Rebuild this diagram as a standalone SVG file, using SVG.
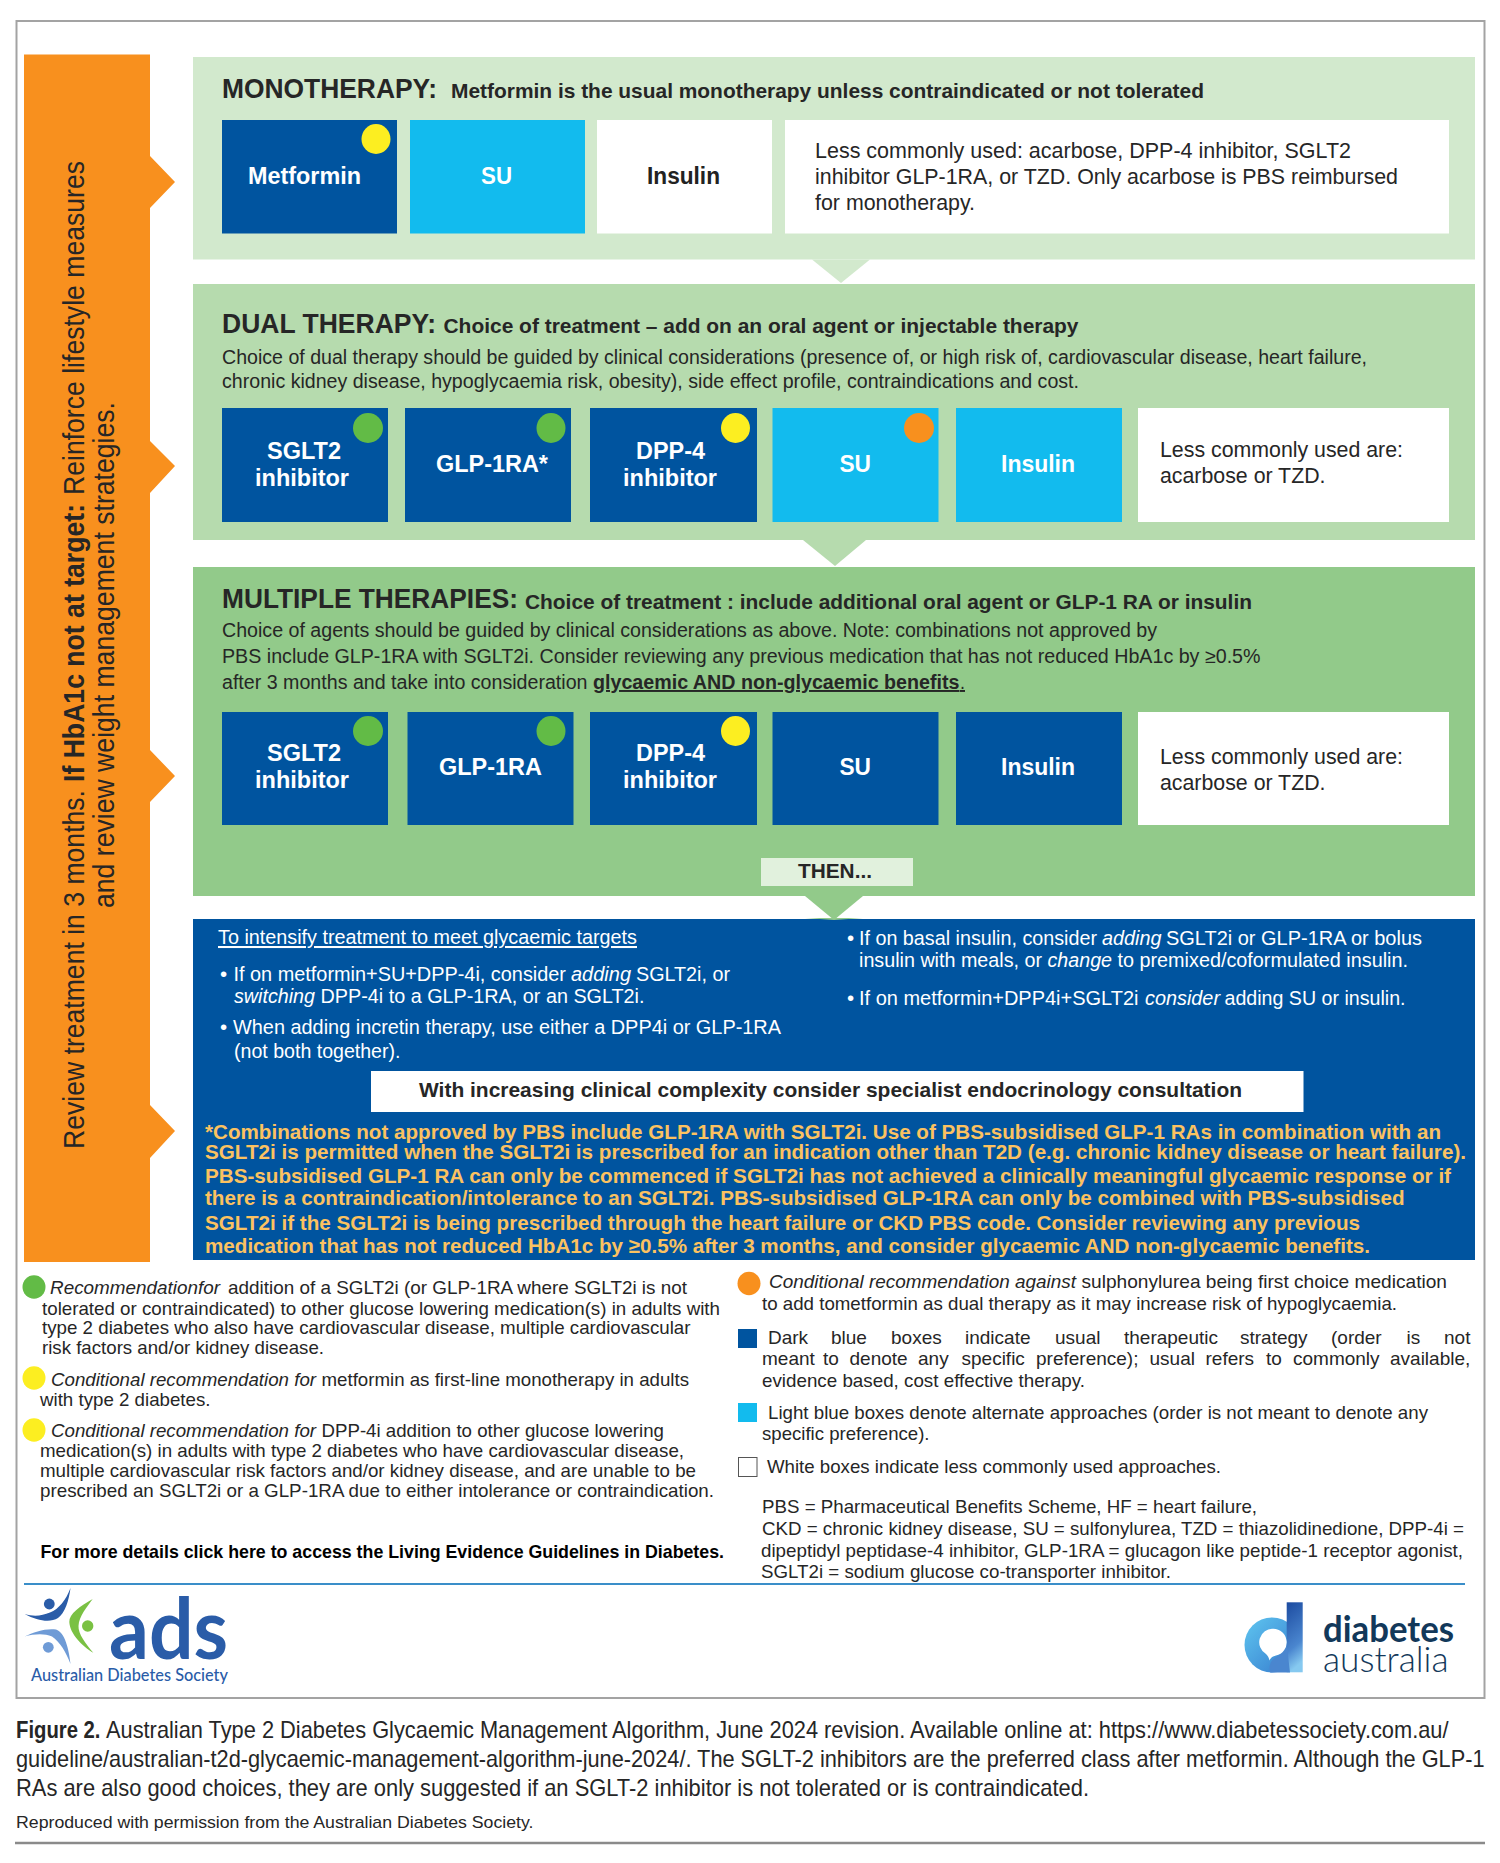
<svg xmlns="http://www.w3.org/2000/svg" width="1500" height="1863" viewBox="0 0 1500 1863">
<style>
text{font-family:"Liberation Sans",Arial,sans-serif;fill:#262626}
.h{font-size:27px;font-weight:700}
.s{font-size:21px;font-weight:700}
.b{font-size:19.500px}
.w{font-size:22px}
.l{font-size:24.500px;font-weight:700;fill:#fff;}
.d{font-size:24.500px;font-weight:700;fill:#222}
.u{font-size:20.500px;fill:#fff}
.f{font-size:21px;font-weight:700;fill:#fbc261}
.g{font-size:19px}
.i{font-style:italic}
.e{font-weight:700}
.r{font-size:29px}
.c{font-size:24px}
.uu{text-decoration:underline}
.dk{fill:#00549f}.lt{fill:#12bbee}.wh{fill:#fff}
.p1{fill:#d2e9cd}.p2{fill:#b6dbae}.p3{fill:#92ca8a}
.y{fill:#fcee21}.gn{fill:#62bb46}.or{fill:#f8901e}
</style>
<defs>
<linearGradient id="dg" x1="0" y1="0" x2="1" y2="1"><stop offset="0" stop-color="#5fc6f0"/><stop offset="1" stop-color="#3478cc"/></linearGradient>
<linearGradient id="ds" x1="0" y1="0" x2="0.2" y2="1"><stop offset="0" stop-color="#1c4ba0"/><stop offset="0.7" stop-color="#4a86cf"/><stop offset="1" stop-color="#86c9f0"/></linearGradient>
</defs>
<rect width="1500" height="1863" fill="#fff"/>
<rect x="16.500" y="21" width="1468" height="1677" fill="none" stroke="#a3a3a3" stroke-width="2"/>

<g id="review-bar">
<path class="or" d="M24 54.500H150V156L175 182L150 208V441L175 466L150 493V750L175 776L150 802V1105L175 1131L150 1158V1262H24Z"/>
<text class="r" transform="translate(84,1149) rotate(-90)"><tspan x="0" textLength="359" lengthAdjust="spacingAndGlyphs">Review treatment in 3 months.</tspan><tspan class="e" x="367" textLength="278" lengthAdjust="spacingAndGlyphs">If HbA1c not at target:</tspan><tspan x="654" textLength="334" lengthAdjust="spacingAndGlyphs">Reinforce lifestyle measures</tspan></text>
<text class="r" transform="translate(113.500,908) rotate(-90)" textLength="506" lengthAdjust="spacingAndGlyphs">and review weight management strategies.</text>
</g>

<g id="connectors">
<path class="p1" d="M812 259.500H870L841 283Z"/>
<path class="p2" d="M803 540H866L835 566Z"/>
<path class="p3" d="M805 896H863L834 920Z"/>
</g>

<g id="monotherapy">
<rect class="p1" x="193" y="57" width="1282" height="202.500"/>
<text class="h" x="222" y="98" textLength="215" lengthAdjust="spacingAndGlyphs">MONOTHERAPY:</text>
<text class="s" x="451" y="98" textLength="753" lengthAdjust="spacingAndGlyphs">Metformin is the usual monotherapy unless contraindicated or not tolerated</text>
<g id="mono-metformin"><rect class="dk" x="222" y="120" width="175" height="113.500"/><text class="l" x="248" y="184" textLength="113" lengthAdjust="spacingAndGlyphs">Metformin</text><ellipse class="y" cx="376" cy="139" rx="14.500" ry="15"/></g>
<g id="mono-su"><rect class="lt" x="410" y="120" width="175" height="113.500"/><text class="l" x="481" y="184" textLength="31" lengthAdjust="spacingAndGlyphs">SU</text></g>
<g id="mono-insulin"><rect class="wh" x="597" y="120" width="175" height="113.500"/><text class="d" x="647" y="184" textLength="73" lengthAdjust="spacingAndGlyphs">Insulin</text></g>
<g id="mono-less"><rect class="wh" x="785" y="120" width="664" height="113.500"/>
<text class="w" x="815" y="158" textLength="536" lengthAdjust="spacingAndGlyphs">Less commonly used: acarbose, DPP-4 inhibitor, SGLT2</text>
<text class="w" x="815" y="184" textLength="583" lengthAdjust="spacingAndGlyphs">inhibitor GLP-1RA, or TZD. Only acarbose is PBS reimbursed</text>
<text class="w" x="815" y="210" textLength="160" lengthAdjust="spacingAndGlyphs">for monotherapy.</text></g>
</g>

<g id="dual-therapy">
<rect class="p2" x="193" y="284" width="1282" height="256"/>
<text class="h" x="222" y="333" textLength="214" lengthAdjust="spacingAndGlyphs">DUAL THERAPY:</text>
<text class="s" x="443.500" y="333" textLength="635" lengthAdjust="spacingAndGlyphs">Choice of treatment – add on an oral agent or injectable therapy</text>
<text class="b" x="222" y="364" textLength="1145" lengthAdjust="spacingAndGlyphs">Choice of dual therapy should be guided by clinical considerations (presence of, or high risk of, cardiovascular disease, heart failure,</text>
<text class="b" x="222" y="388" textLength="857" lengthAdjust="spacingAndGlyphs">chronic kidney disease, hypoglycaemia risk, obesity), side effect profile, contraindications and cost.</text>
<g id="dual-sglt2"><rect class="dk" x="222" y="408" width="166" height="114"/><text class="l" x="267" y="459" textLength="74" lengthAdjust="spacingAndGlyphs">SGLT2</text><text class="l" x="255" y="486" textLength="94" lengthAdjust="spacingAndGlyphs">inhibitor</text><ellipse class="gn" cx="368" cy="428" rx="15" ry="15"/></g>
<g id="dual-glp1"><rect class="dk" x="405" y="408" width="166" height="114"/><text class="l" x="436" y="472" textLength="112" lengthAdjust="spacingAndGlyphs">GLP-1RA*</text><ellipse class="gn" cx="551" cy="428" rx="14.500" ry="15"/></g>
<g id="dual-dpp4"><rect class="dk" x="590" y="408" width="167" height="114"/><text class="l" x="636" y="459" textLength="69" lengthAdjust="spacingAndGlyphs">DPP-4</text><text class="l" x="623" y="486" textLength="94" lengthAdjust="spacingAndGlyphs">inhibitor</text><ellipse class="y" cx="735.500" cy="428" rx="14.500" ry="15"/></g>
<g id="dual-su"><rect class="lt" x="772.500" y="408" width="166" height="114"/><text class="l" x="839.500" y="472" textLength="31.500" lengthAdjust="spacingAndGlyphs">SU</text><ellipse class="or" cx="919" cy="428" rx="15" ry="15"/></g>
<g id="dual-insulin"><rect class="lt" x="956" y="408" width="166" height="114"/><text class="l" x="1001" y="472" textLength="74" lengthAdjust="spacingAndGlyphs">Insulin</text></g>
<g id="dual-less"><rect class="wh" x="1138" y="408" width="311" height="114"/>
<text class="w" x="1160" y="457" textLength="243" lengthAdjust="spacingAndGlyphs">Less commonly used are:</text>
<text class="w" x="1160" y="483" textLength="165.500" lengthAdjust="spacingAndGlyphs">acarbose or TZD.</text></g>
</g>

<g id="multiple-therapies">
<rect class="p3" x="193" y="567" width="1282" height="329"/>
<text class="h" x="222" y="608" textLength="296" lengthAdjust="spacingAndGlyphs">MULTIPLE THERAPIES:</text>
<text class="s" x="525" y="609" textLength="727" lengthAdjust="spacingAndGlyphs">Choice of treatment : include additional oral agent or GLP-1 RA or insulin</text>
<text class="b" x="222" y="637" textLength="935" lengthAdjust="spacingAndGlyphs">Choice of agents should be guided by clinical considerations as above. Note: combinations not approved by</text>
<text class="b" x="222" y="663" textLength="1038.500" lengthAdjust="spacingAndGlyphs">PBS include GLP-1RA with SGLT2i. Consider reviewing any previous medication that has not reduced HbA1c by ≥0.5%</text>
<text class="b" y="689"><tspan x="222" textLength="365.500" lengthAdjust="spacingAndGlyphs">after 3 months and take into consideration</tspan><tspan class="e uu" x="593" textLength="366.500" lengthAdjust="spacingAndGlyphs">glycaemic AND non-glycaemic benefits</tspan><tspan class="uu" x="960" textLength="5" lengthAdjust="spacingAndGlyphs">.</tspan></text>
<g id="multi-sglt2"><rect class="dk" x="222" y="712" width="166" height="113"/><text class="l" x="267" y="761" textLength="74" lengthAdjust="spacingAndGlyphs">SGLT2</text><text class="l" x="255" y="788" textLength="94" lengthAdjust="spacingAndGlyphs">inhibitor</text><ellipse class="gn" cx="368" cy="731" rx="15" ry="15"/></g>
<g id="multi-glp1"><rect class="dk" x="407.500" y="712" width="166" height="113"/><text class="l" x="439" y="775" textLength="103" lengthAdjust="spacingAndGlyphs">GLP-1RA</text><ellipse class="gn" cx="551" cy="731" rx="14.500" ry="15"/></g>
<g id="multi-dpp4"><rect class="dk" x="590" y="712" width="167" height="113"/><text class="l" x="636" y="761" textLength="69" lengthAdjust="spacingAndGlyphs">DPP-4</text><text class="l" x="623" y="788" textLength="94" lengthAdjust="spacingAndGlyphs">inhibitor</text><ellipse class="y" cx="735.500" cy="731" rx="14.500" ry="15"/></g>
<g id="multi-su"><rect class="dk" x="772.500" y="712" width="166" height="113"/><text class="l" x="839.500" y="775" textLength="31.500" lengthAdjust="spacingAndGlyphs">SU</text></g>
<g id="multi-insulin"><rect class="dk" x="956" y="712" width="166" height="113"/><text class="l" x="1001" y="775" textLength="74" lengthAdjust="spacingAndGlyphs">Insulin</text></g>
<g id="multi-less"><rect class="wh" x="1138" y="712" width="311" height="113"/>
<text class="w" x="1160" y="764" textLength="243" lengthAdjust="spacingAndGlyphs">Less commonly used are:</text>
<text class="w" x="1160" y="790" textLength="165.500" lengthAdjust="spacingAndGlyphs">acarbose or TZD.</text></g>
<g id="then"><rect x="761" y="858" width="152" height="28" fill="#e1f1dd"/><text class="s" x="798" y="878" textLength="74" lengthAdjust="spacingAndGlyphs">THEN...</text></g>
</g>

<g id="intensify">
<rect class="dk" x="193" y="919" width="1282" height="341"/>
<path class="p3" d="M805 918H863L834 920Z"/>
<text class="u uu" x="218" y="944" textLength="419" lengthAdjust="spacingAndGlyphs">To intensify treatment to meet glycaemic targets</text>
<text class="u" x="220" y="981">•</text>
<text class="u" y="981"><tspan x="233.500" textLength="332.500" lengthAdjust="spacingAndGlyphs">If on metformin+SU+DPP-4i, consider</tspan><tspan class="i" x="571" textLength="60" lengthAdjust="spacingAndGlyphs">adding</tspan><tspan x="636" textLength="94" lengthAdjust="spacingAndGlyphs">SGLT2i, or</tspan></text>
<text class="u" y="1003"><tspan class="i" x="234" textLength="81" lengthAdjust="spacingAndGlyphs">switching</tspan><tspan x="320.500" textLength="324" lengthAdjust="spacingAndGlyphs">DPP-4i to a GLP-1RA, or an SGLT2i.</tspan></text>
<text class="u" x="220" y="1034">•</text>
<text class="u" x="233" y="1034" textLength="548" lengthAdjust="spacingAndGlyphs">When adding incretin therapy, use either a DPP4i or GLP-1RA</text>
<text class="u" x="234" y="1058" textLength="166.500" lengthAdjust="spacingAndGlyphs">(not both together).</text>
<text class="u" x="847" y="945">•</text>
<text class="u" y="945"><tspan x="859" textLength="238" lengthAdjust="spacingAndGlyphs">If on basal insulin, consider</tspan><tspan class="i" x="1102" textLength="59.500" lengthAdjust="spacingAndGlyphs">adding</tspan><tspan x="1166" textLength="256" lengthAdjust="spacingAndGlyphs">SGLT2i or GLP-1RA or bolus</tspan></text>
<text class="u" y="967"><tspan x="859" textLength="183" lengthAdjust="spacingAndGlyphs">insulin with meals, or</tspan><tspan class="i" x="1047.500" textLength="64.500" lengthAdjust="spacingAndGlyphs">change</tspan><tspan x="1117.500" textLength="290.500" lengthAdjust="spacingAndGlyphs">to premixed/coformulated insulin.</tspan></text>
<text class="u" x="847" y="1005">•</text>
<text class="u" y="1005"><tspan x="859" textLength="279.500" lengthAdjust="spacingAndGlyphs">If on metformin+DPP4i+SGLT2i</tspan><tspan class="i" x="1145" textLength="75" lengthAdjust="spacingAndGlyphs">consider</tspan><tspan x="1224.500" textLength="181" lengthAdjust="spacingAndGlyphs">adding SU or insulin.</tspan></text>
<g id="specialist"><rect class="wh" x="371" y="1071" width="932.500" height="41"/>
<text class="s" x="419" y="1097" textLength="823" lengthAdjust="spacingAndGlyphs">With increasing clinical complexity consider specialist endocrinology consultation</text></g>
<text class="f" x="205" y="1139" textLength="1236" lengthAdjust="spacingAndGlyphs">*Combinations not approved by PBS include GLP-1RA with SGLT2i. Use of PBS-subsidised GLP-1 RAs in combination with an</text>
<text class="f" x="205" y="1159" textLength="1261" lengthAdjust="spacingAndGlyphs">SGLT2i is permitted when the SGLT2i is prescribed for an indication other than T2D (e.g. chronic kidney disease or heart failure).</text>
<text class="f" x="205" y="1183" textLength="1246" lengthAdjust="spacingAndGlyphs">PBS-subsidised GLP-1 RA can only be commenced if SGLT2i has not achieved a clinically meaningful glycaemic response or if</text>
<text class="f" x="205" y="1205" textLength="1199.500" lengthAdjust="spacingAndGlyphs">there is a contraindication/intolerance to an SGLT2i. PBS-subsidised GLP-1RA can only be combined with PBS-subsidised</text>
<text class="f" x="205" y="1230" textLength="1155" lengthAdjust="spacingAndGlyphs">SGLT2i if the SGLT2i is being prescribed through the heart failure or CKD PBS code. Consider reviewing any previous</text>
<text class="f" x="205" y="1253" textLength="1165" lengthAdjust="spacingAndGlyphs">medication that has not reduced HbA1c by ≥0.5% after 3 months, and consider glycaemic AND non-glycaemic benefits.</text>
</g>

<g id="legend-left">
<ellipse class="gn" cx="34" cy="1287" rx="11.500" ry="11.700"/>
<text class="g" y="1294"><tspan class="i" x="50" textLength="170" lengthAdjust="spacingAndGlyphs">Recommendationfor</tspan><tspan x="228" textLength="459" lengthAdjust="spacingAndGlyphs">addition of a SGLT2i (or GLP-1RA where SGLT2i is not</tspan></text>
<text class="g" x="42" y="1315" textLength="678" lengthAdjust="spacingAndGlyphs">tolerated or contraindicated) to other glucose lowering medication(s) in adults with</text>
<text class="g" x="42" y="1334" textLength="648.500" lengthAdjust="spacingAndGlyphs">type 2 diabetes who also have cardiovascular disease, multiple cardiovascular</text>
<text class="g" x="42" y="1354" textLength="282" lengthAdjust="spacingAndGlyphs">risk factors and/or kidney disease.</text>
<ellipse class="y" cx="34" cy="1378" rx="11.500" ry="11.700"/>
<text class="g" y="1386"><tspan class="i" x="51" textLength="265" lengthAdjust="spacingAndGlyphs">Conditional recommendation for</tspan><tspan x="321.500" textLength="367.500" lengthAdjust="spacingAndGlyphs">metformin as first-line monotherapy in adults</tspan></text>
<text class="g" x="40" y="1406" textLength="170.500" lengthAdjust="spacingAndGlyphs">with type 2 diabetes.</text>
<ellipse class="y" cx="34" cy="1430" rx="11.500" ry="11.700"/>
<text class="g" y="1437"><tspan class="i" x="51" textLength="265" lengthAdjust="spacingAndGlyphs">Conditional recommendation for</tspan><tspan x="321.500" textLength="342.500" lengthAdjust="spacingAndGlyphs">DPP-4i addition to other glucose lowering</tspan></text>
<text class="g" x="40" y="1457" textLength="644" lengthAdjust="spacingAndGlyphs">medication(s) in adults with type 2 diabetes who have cardiovascular disease,</text>
<text class="g" x="40" y="1477" textLength="656" lengthAdjust="spacingAndGlyphs">multiple cardiovascular risk factors and/or kidney disease, and are unable to be</text>
<text class="g" x="40" y="1497" textLength="674" lengthAdjust="spacingAndGlyphs">prescribed an SGLT2i or a GLP-1RA due to either intolerance or contraindication.</text>
<text class="g e" x="40.500" y="1558" textLength="683.500" lengthAdjust="spacingAndGlyphs" style="fill:#000">For more details click here to access the Living Evidence Guidelines in Diabetes.</text>
</g>

<g id="legend-right">
<ellipse class="or" cx="749" cy="1283.500" rx="11.500" ry="11.700"/>
<text class="g" y="1288"><tspan class="i" x="769" textLength="307" lengthAdjust="spacingAndGlyphs">Conditional recommendation against</tspan><tspan x="1081.500" textLength="365.500" lengthAdjust="spacingAndGlyphs">sulphonylurea being first choice medication</tspan></text>
<text class="g" x="762" y="1310" textLength="635" lengthAdjust="spacingAndGlyphs">to add tometformin as dual therapy as it may increase risk of hypoglycaemia.</text>
<rect class="dk" x="738" y="1329" width="19" height="19"/>
<text class="g" y="1344"><tspan x="768">Dark</tspan><tspan x="831">blue</tspan><tspan x="891">boxes</tspan><tspan x="965">indicate</tspan><tspan x="1055">usual</tspan><tspan x="1124">therapeutic</tspan><tspan x="1240">strategy</tspan><tspan x="1331">(order</tspan><tspan x="1406.500">is</tspan><tspan x="1444">not</tspan></text>
<text class="g" y="1365"><tspan x="762">meant</tspan><tspan x="823">to</tspan><tspan x="849.500">denote</tspan><tspan x="918">any</tspan><tspan x="961.500">specific</tspan><tspan x="1036">preference);</tspan><tspan x="1149.500">usual</tspan><tspan x="1205.500">refers</tspan><tspan x="1266">to</tspan><tspan x="1293">commonly</tspan><tspan x="1390">available,</tspan></text>
<text class="g" x="762" y="1387" textLength="323" lengthAdjust="spacingAndGlyphs">evidence based, cost effective therapy.</text>
<rect class="lt" x="738" y="1403" width="19" height="19"/>
<text class="g" x="768" y="1419" textLength="660" lengthAdjust="spacingAndGlyphs">Light blue boxes denote alternate approaches (order is not meant to denote any</text>
<text class="g" x="762" y="1440" textLength="167.500" lengthAdjust="spacingAndGlyphs">specific preference).</text>
<rect x="738.500" y="1457.500" width="18.500" height="19" fill="#fff" stroke="#555" stroke-width="1"/>
<text class="g" x="767" y="1473" textLength="454" lengthAdjust="spacingAndGlyphs">White boxes indicate less commonly used approaches.</text>
<text class="g" x="762" y="1513" textLength="495" lengthAdjust="spacingAndGlyphs">PBS = Pharmaceutical Benefits Scheme, HF = heart failure,</text>
<text class="g" x="762" y="1535" textLength="702" lengthAdjust="spacingAndGlyphs">CKD = chronic kidney disease, SU = sulfonylurea, TZD = thiazolidinedione, DPP-4i =</text>
<text class="g" x="761" y="1557" textLength="702" lengthAdjust="spacingAndGlyphs">dipeptidyl peptidase-4 inhibitor, GLP-1RA = glucagon like peptide-1 receptor agonist,</text>
<text class="g" x="761" y="1578" textLength="410" lengthAdjust="spacingAndGlyphs">SGLT2i = sodium glucose co-transporter inhibitor.</text>
</g>

<line x1="24" y1="1584" x2="1465" y2="1584" stroke="#3a8ec9" stroke-width="2"/>

<g id="ads-logo">
<circle cx="49.300" cy="1604" r="5.400" fill="#2a5ca8"/>
<path fill="#2a5ca8" d="M24.500 1614C35 1617 42 1615.500 50 1612.500C59 1609 66 1600 70.500 1588C69 1600 65 1613 58 1618C50 1623 38 1621 24.500 1614Z"/>
<circle cx="48.300" cy="1647.300" r="5.400" fill="#6f9bd6"/>
<path fill="#6f9bd6" d="M24.500 1636.500C34 1632 46 1628 56 1629.500C65 1632 69 1650 70.500 1664C66 1652 60 1642 52 1636.500C44 1633 34 1634 24.500 1636.500Z"/>
<circle cx="87.700" cy="1626" r="5.700" fill="#7ac143"/>
<path fill="#7ac143" d="M92.700 1599C80 1606 69 1614 69.300 1622C70 1634 82 1646 93.300 1652.700C86 1644 78 1634 78.500 1626C79 1616 87 1607 92.700 1599Z"/>
<text x="109" y="1659" font-size="84" font-weight="700" textLength="119" lengthAdjust="spacingAndGlyphs" style="font-family:Lato,'Liberation Sans',sans-serif;fill:#2a5ca8">ads</text>
<text x="31" y="1681" font-size="17" textLength="197" lengthAdjust="spacingAndGlyphs" style="font-family:Lato,'Liberation Sans',sans-serif;fill:#2a5ca8;font-weight:500">Australian Diabetes Society</text>
</g>

<g id="diabetes-australia-logo">
<circle cx="1272" cy="1645" r="27.500" fill="url(#dg)"/>
<rect x="1286.700" y="1602.300" width="16" height="70" fill="url(#ds)"/>
<path fill="#4a86cf" d="M1270 1672.500C1268 1664 1272 1659 1278 1656C1283 1653 1286 1649 1286.700 1644L1290 1672.500Z"/>
<path fill="#fff" d="M1273.300 1628.800A13.500 13.500 0 0 1 1276 1655.500C1272 1656.500 1270.500 1658 1269.500 1660.500C1269 1658 1268 1656 1266 1654A13.500 13.500 0 0 1 1273.300 1628.800Z"/>
<text x="1323" y="1642" font-size="36" font-weight="700" textLength="131" lengthAdjust="spacingAndGlyphs" style="font-family:Lato,'Liberation Sans',sans-serif;fill:#12385a">diabetes</text>
<text x="1323" y="1672" font-size="36" font-weight="300" textLength="125.500" lengthAdjust="spacingAndGlyphs" style="font-family:Lato,'Liberation Sans',sans-serif;fill:#12385a">australia</text>
</g>

<g id="caption">
<text class="c" y="1738"><tspan class="e" x="16" textLength="84.500" lengthAdjust="spacingAndGlyphs">Figure 2.</tspan><tspan x="106" textLength="1342.500" lengthAdjust="spacingAndGlyphs">Australian Type 2 Diabetes Glycaemic Management Algorithm, June 2024 revision. Available online at: https://www.diabetessociety.com.au/</tspan></text>
<text class="c" x="16" y="1767" textLength="1468.500" lengthAdjust="spacingAndGlyphs">guideline/australian-t2d-glycaemic-management-algorithm-june-2024/. The SGLT-2 inhibitors are the preferred class after metformin. Although the GLP-1</text>
<text class="c" x="16" y="1796" textLength="1073" lengthAdjust="spacingAndGlyphs">RAs are also good choices, they are only suggested if an SGLT-2 inhibitor is not tolerated or is contraindicated.</text>
<text x="16" y="1828" font-size="17" textLength="517.500" lengthAdjust="spacingAndGlyphs">Reproduced with permission from the Australian Diabetes Society.</text>
<line x1="15" y1="1843" x2="1485" y2="1843" stroke="#8a8a8a" stroke-width="2.500"/>
</g>
</svg>
